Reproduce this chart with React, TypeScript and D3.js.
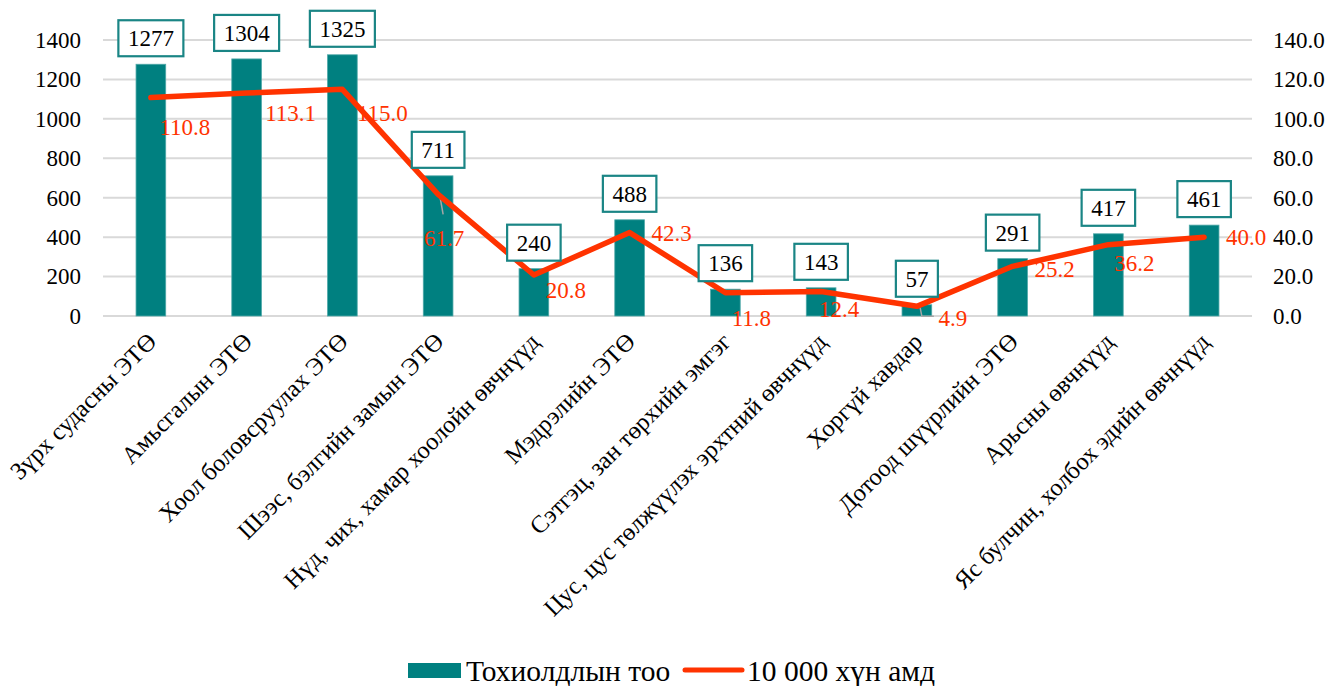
import React, { useEffect, useRef } from 'react';
import * as d3 from 'd3';

const categories = [
  'Зүрх судасны ЭТӨ',
  'Амьсгалын ЭТӨ',
  'Хоол боловсруулах ЭТӨ',
  'Шээс, бэлгийн замын ЭТӨ',
  'Нүд, чих, хамар хоолойн өвчнүүд',
  'Мэдрэлийн ЭТӨ',
  'Сэтгэц, зан төрхийн эмгэг',
  'Цус, цус төлжүүлэх эрхтний өвчнүүд',
  'Хоргүй хавдар',
  'Дотоод шүүрлийн ЭТӨ',
  'Арьсны өвчнүүд',
  'Яс булчин, холбох эдийн өвчнүүд',
];
const cases = [1277, 1304, 1325, 711, 240, 488, 136, 143, 57, 291, 417, 461];
const rate = [110.8, 113.1, 115.0, 61.7, 20.8, 42.3, 11.8, 12.4, 4.9, 25.2, 36.2, 40.0];
const leftTicks = [0, 200, 400, 600, 800, 1000, 1200, 1400];
const rightTicks = [0, 20, 40, 60, 80, 100, 120, 140];
const seriesNames = ['Тохиолдлын тоо', '10 000 хүн амд'];

// manual placement of the line labels, like the original (dx, dy from the point)
const rateLabelShift = [
  [34, 29], [44, 20], [40, 24], [6, 44], [32, 15], [42, 0],
  [26, 25], [18, 17], [36, 12], [42, 3], [26, 18], [42, 0],
];

const TEAL = '#008080';
const RED = '#ff3300';
const FONT = 'Liberation Serif, Tinos, serif';

export default function App() {
  const svgRef = useRef<SVGSVGElement>(null);

  useEffect(() => {
    const svg = d3.select(svgRef.current);
    svg.selectAll('*').remove();

    const left = 103, right = 1252, top = 40, bottom = 316;

    const x = d3.scaleBand<string>()
      .domain(categories)
      .range([left, right])
      .paddingInner(0.69)
      .paddingOuter(0.345);
    const y = d3.scaleLinear().domain([0, 1400]).range([bottom, top]);
    const y2 = d3.scaleLinear().domain([0, 140]).range([bottom, top]);
    const cx = (i: number) => (x(categories[i]) as number) + x.bandwidth() / 2;

    // grid
    svg.append('g')
      .selectAll('line')
      .data(leftTicks)
      .join('line')
      .attr('x1', left).attr('x2', right)
      .attr('y1', (d) => y(d)).attr('y2', (d) => y(d))
      .attr('stroke', '#d9d9d9')
      .attr('stroke-width', 2);

    // left axis
    const ax = svg.append('g')
      .attr('transform', `translate(${left - 22},0)`)
      .call(d3.axisLeft(y).tickValues(leftTicks).tickSize(0).tickPadding(0).tickFormat(d3.format('d')));
    ax.select('.domain').remove();
    ax.attr('font-family', null).attr('font-size', null);
    ax.selectAll('text').attr('fill', '#000');

    // right axis
    const ax2 = svg.append('g')
      .attr('transform', `translate(${right + 21},0)`)
      .call(d3.axisRight(y2).tickValues(rightTicks).tickSize(0).tickPadding(0).tickFormat(d3.format('.1f')));
    ax2.select('.domain').remove();
    ax2.attr('font-family', null).attr('font-size', null);
    ax2.selectAll('text').attr('fill', '#000');

    // bars
    svg.append('g')
      .selectAll('rect')
      .data(cases)
      .join('rect')
      .attr('x', (d, i) => x(categories[i]) as number)
      .attr('width', x.bandwidth())
      .attr('y', (d) => y(d))
      .attr('height', (d) => y(0) - y(d))
      .attr('fill', TEAL)
      .attr('stroke', '#4fa8a8')
      .attr('stroke-width', 0.8);

    // x labels
    svg.append('g')
      .style('font-size', '24.5px')
      .selectAll('text')
      .data(categories)
      .join('text')
      .attr('transform', (d, i) => `translate(${cx(i) + 1},${bottom + 21}) rotate(-45)`)
      .attr('text-anchor', 'end')
      .attr('dy', '0.35em')
      .attr('fill', '#000')
      .text((d) => d);

    // leader lines for the two moved labels
    const leaders = svg.append('g').attr('stroke', '#a6a6a6').attr('stroke-width', 1.5).attr('fill', 'none');
    leaders.append('path')
      .attr('d', `M${cx(3) + 2},${y2(rate[3]) + 3}L${cx(3) + 5},${y2(rate[3]) + 20}`);
    leaders.append('path')
      .attr('d', `M${cx(8) + 3},${y2(rate[8])}L${cx(8) + 5},${y2(rate[8]) + 10}L${cx(8) + 17},${y2(rate[8]) + 10}`);

    // line
    const line = d3.line<number>()
      .x((d, i) => cx(i))
      .y((d) => y2(d));
    svg.append('path')
      .datum(rate)
      .attr('fill', 'none')
      .attr('stroke', RED)
      .attr('stroke-width', 5.5)
      .attr('stroke-linecap', 'round')
      .attr('stroke-linejoin', 'round')
      .attr('d', line);

    // bar value boxes
    const boxes = svg.append('g')
      .selectAll('g')
      .data(cases)
      .join('g')
      .attr('transform', (d, i) => `translate(${cx(i)},${y(d) - 26})`);
    boxes.append('text')
      .attr('text-anchor', 'middle')
      .attr('dy', '0.35em')
      .attr('fill', '#000')
      .text((d) => d);
    boxes.each(function () {
      const g = d3.select(this);
      const t = g.select('text').node() as SVGTextElement;
      const w = t.getComputedTextLength() + 19;
      g.insert('rect', 'text')
        .attr('x', -w / 2).attr('y', -18)
        .attr('width', w).attr('height', 36)
        .attr('fill', '#fff')
        .attr('stroke', '#1a8585')
        .attr('stroke-width', 2.2);
    });

    // line value labels
    svg.append('g')
      .selectAll('text')
      .data(rate)
      .join('text')
      .attr('x', (d, i) => cx(i) + rateLabelShift[i][0])
      .attr('y', (d, i) => y2(d) + rateLabelShift[i][1])
      .attr('text-anchor', 'middle')
      .attr('dy', '0.35em')
      .attr('fill', RED)
      .text((d) => d.toFixed(1));

    // legend
    const lg = svg.append('g').style('font-size', '29.5px').attr('fill', '#000');
    lg.append('rect').attr('x', 408).attr('y', 663).attr('width', 53).attr('height', 15).attr('fill', TEAL);
    lg.append('text').attr('x', 466).attr('y', 671).attr('dy', '0.35em').text(seriesNames[0]);
    lg.append('line')
      .attr('x1', 685).attr('x2', 742).attr('y1', 670).attr('y2', 670)
      .attr('stroke', RED).attr('stroke-width', 5).attr('stroke-linecap', 'round');
    lg.append('text').attr('x', 747).attr('y', 671).attr('dy', '0.35em').text(seriesNames[1]);
  }, []);

  return (
    <svg
      ref={svgRef}
      width={1331}
      height={686}
      style={{
        position: 'absolute',
        left: 0,
        top: 0,
        background: '#fff',
        fontFamily: FONT,
        fontSize: 23,
      }}
    />
  );
}
